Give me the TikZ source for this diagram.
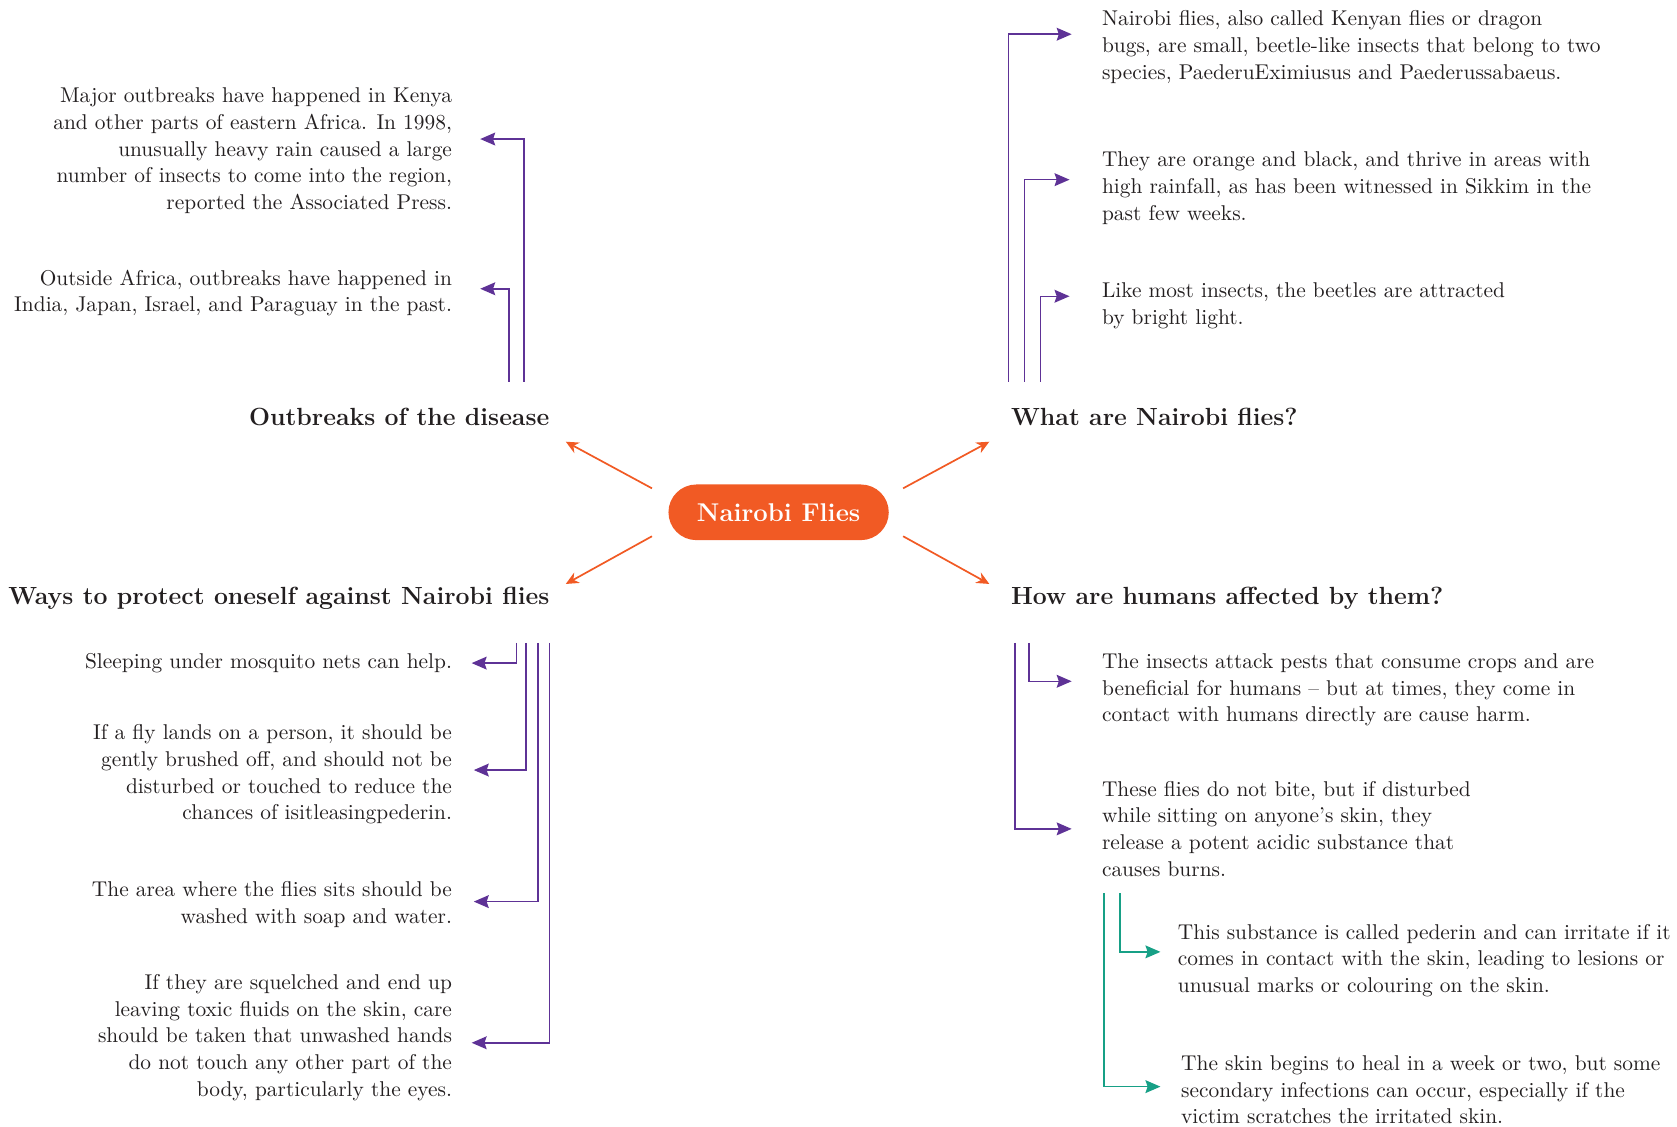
\documentclass[tikz,border=0pt]{standalone}
\usepackage{fontspec}
\usetikzlibrary{arrows.meta}
\definecolor{ink}{HTML}{231F20}
\definecolor{flyorange}{HTML}{F15A24}
\definecolor{flypurple}{HTML}{5E3296}
\definecolor{flyteal}{HTML}{17A086}
\begin{document}
\begin{tikzpicture}[x=0.5pt, y=-0.5pt,
      txt/.style = {text=ink, inner sep=0pt, yshift=-1pt, font=\fontsize{10}{12.5}\selectfont},
      lft/.style = {txt, align=right, anchor=east},
      rgt/.style = {txt, align=left, anchor=west},
      head/.style = {text=ink, inner sep=0pt, font=\bfseries\fontsize{11.6}{13}\selectfont},
      hub/.style = {fill=flyorange, text=white, rounded corners=13pt, minimum width=103pt, minimum height=26pt, inner sep=0pt, font=\bfseries\fontsize{12}{14}\selectfont},
      ray/.style = {draw=flyorange, line width=0.8pt, -{Stealth[length=6pt, width=5.5pt]}},
      link/.style = {draw=flypurple, line width=0.7pt, -{Stealth[length=7pt, width=6pt, inset=1pt]}},
      tlink/.style = {link, draw=flyteal}]
      \useasboundingbox (0,0) rectangle (1568,1053);

      \node[hub] (hub) at (728,479) {Nairobi Flies};
      \node[head, anchor=base east] (h1) at (514,398) {Outbreaks of the disease};
      \node[head, anchor=base west] (h2) at (945,398) {What are Nairobi flies?};
      \node[head, anchor=base east] (h3) at (514,565) {Ways to protect oneself against Nairobi flies};
      \node[head, anchor=base west] (h4) at (945,565) {How are humans affected by them?};

      \node[lft] (t1) at (423,139) {Major outbreaks have happened in Kenya\\ and other parts of eastern Africa. In 1998,\\ unusually heavy rain caused a large\\ number of insects to come into the region,\\ reported the Associated Press.};
      \node[lft] (t2) at (423,272) {Outside Africa, outbreaks have happened in\\ India, Japan, Israel, and Paraguay in the past.};
      \node[rgt] (t3) at (1030,42) {Nairobi flies, also called Kenyan flies or dragon\\ bugs, are small, beetle-like insects that belong to two\\ species, PaederuEximiusus and Paederussabaeus.};
      \node[rgt] (t4) at (1030,174) {They are orange and black, and thrive in areas with\\ high rainfall, as has been witnessed in Sikkim in the\\ past few weeks.};
      \node[rgt] (t5) at (1030,284) {Like most insects, the beetles are attracted\\ by bright light.};
      \node[lft] (t6) at (423,618) {Sleeping under mosquito nets can help.};
      \node[lft] (t7) at (423,722) {If a fly lands on a person, it should be\\ gently brushed off, and should not be\\ disturbed or touched to reduce the\\ chances of isitleasingpederin.};
      \node[lft] (t8) at (423,844) {The area where the flies sits should be\\ washed with soap and water.};
      \node[lft] (t9) at (423,968) {If they are squelched and end up\\ leaving toxic fluids on the skin, care\\ should be taken that unwashed hands\\ do not touch any other part of the\\ body, particularly the eyes.};
      \node[rgt] (t10) at (1030,643) {The insects attack pests that consume crops and are\\ beneficial for humans -- but at times, they come in\\ contact with humans directly are cause harm.};
      \node[rgt] (t11) at (1030,773) {These flies do not bite, but if disturbed\\ while sitting on anyone's skin, they\\ release a potent acidic substance that\\ causes burns.};
      \node[rgt] (t12) at (1101,896) {This substance is called pederin and can irritate if it\\ comes in contact with the skin, leading to lesions or\\ unusual marks or colouring on the skin.};
      \node[rgt] (t13) at (1104,1017) {The skin begins to heal in a week or two, but some\\ secondary infections can occur, especially if the\\ victim scratches the irritated skin.};

      \draw[ray] ([shift={(-15,4)}]hub.north west) to ([shift={(15,15)}]h1.base east);
      \draw[ray] ([shift={(13,4)}]hub.north east) to ([shift={(-20,15)}]h2.base west);
      \draw[ray] ([shift={(-15,-4)}]hub.south west) to ([shift={(15,-19)}]h3.base east);
      \draw[ray] ([shift={(13,-4)}]hub.south east) to ([shift={(-20,-19)}]h4.base west);

      \coordinate (a1) at (490,357);
      \coordinate (a2) at (476,357);
      \coordinate (b1) at (943,357);
      \coordinate (b2) at (958,357);
      \coordinate (b3) at (973,357);
      \coordinate (c1) at (483,601);
      \coordinate (c2) at (492,601);
      \coordinate (c3) at (503,601);
      \coordinate (c4) at (514,601);
      \coordinate (d1) at (962,601);
      \coordinate (d2) at (949,601);
      \coordinate (e1) at (1047,835);
      \coordinate (e2) at (1032,835);

      \draw[link] (a1) |- ([shift={(26,-11)}]t1.east);
      \draw[link] (a2) |- ([shift={(26,-4)}]t2.east);
      \draw[link] (b1) |- ([shift={(-28,-12)}]t3.west);
      \draw[link] (b2) |- ([shift={(-30,-8)}]t4.west);
      \draw[link] (b3) |- ([shift={(-30,-9)}]t5.west);
      \draw[link] (c1) |- ([shift={(18,0)}]t6.east);
      \draw[link] (c2) |- ([shift={(20,-4)}]t7.east);
      \draw[link] (c3) |- ([shift={(20,-3)}]t8.east);
      \draw[link] (c4) |- ([shift={(18,5)}]t9.east);
      \draw[link] (d1) |- ([shift={(-28,-8)}]t10.west);
      \draw[link] (d2) |- ([shift={(-28,0)}]t11.west);
      \draw[tlink] (e1) |- ([shift={(-16,-8)}]t12.west);
      \draw[tlink] (e2) |- ([shift={(-19,-3)}]t13.west);
\end{tikzpicture}
\end{document}
